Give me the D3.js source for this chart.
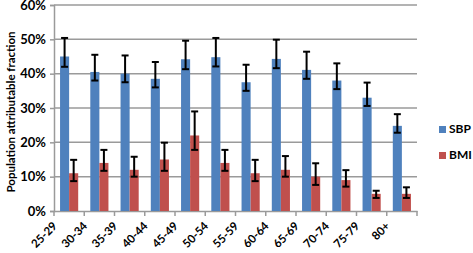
<!DOCTYPE html>
<html>
<head>
<meta charset="utf-8">
<script src="https://cdn.jsdelivr.net/npm/d3@7"></script>
<style>
  body { margin: 0; background: #fff; }
  text { font-family: Lato, "Open Sans", sans-serif; font-weight: bold; fill: #000; }
</style>
</head>
<body>
<div id="chart"></div>
<script>
// --------------------------------------
//  Data
// --------------------------------------

const ageGroups = ["25-29", "30-34", "35-39", "40-44", "45-49", "50-54", "55-59", "60-64", "65-69", "70-74", "75-79", "80+"];
const sbp     = [45, 40.5, 40, 38.5, 44.2, 44.8, 37.5, 44.3, 41.1, 38, 33, 24.8];
const sbpLow  = [42, 38, 37.5, 36, 41.3, 42.1, 35, 41.6, 38.5, 35.5, 30.6, 22.8];
const sbpHigh = [50.4, 45.5, 45.3, 43.4, 49.6, 50.4, 42.6, 49.9, 46.4, 43, 37.4, 28.2];
const bmi     = [11, 14, 12, 15, 22, 14, 11, 12, 10, 9, 5, 5];
const bmiLow  = [8.7, 11.7, 10, 11.7, 17.8, 11.7, 8.7, 10, 7.6, 7.1, 3.8, 3.8];
const bmiHigh = [14.9, 17.8, 15.8, 19.9, 29, 17.8, 14.9, 16, 13.9, 11.9, 5.9, 6.9];
const yTicks  = [0, 10, 20, 30, 40, 50, 60];
const seriesNames = ["SBP", "BMI"];
const colors = ["#4F81BD", "#C0504D"];

const width = 473, height = 253;
const margin = { top: 5, right: 56, bottom: 42, left: 54 };
const innerwidth = width - margin.left - margin.right;
const innerheight = height - margin.top - margin.bottom;

// --------------------------------------
//  Canvas
// --------------------------------------

const svg = d3.select("#chart")
  .append("svg")
    .attr("width", width)
    .attr("height", height);

const inner = svg.append("g")
    .attr("transform", `translate(${margin.left}, ${margin.top})`);

// --------------------------------------
//  Scales
// --------------------------------------

const x = d3.scaleBand()
    .domain(ageGroups)
    .range([0, innerwidth])
    .paddingInner(0.4)
    .paddingOuter(0.2);

const xSub = d3.scaleBand()
    .domain(seriesNames)
    .range([0, x.bandwidth()]);

const y = d3.scaleLinear()
    .domain([0, 60])
    .range([innerheight, 0]);

// --------------------------------------
//  Grid + axes
// --------------------------------------

inner.append("g")
  .selectAll("line")
  .data(yTicks.filter(d => d > 0))
  .join("line")
    .attr("x1", 0)
    .attr("x2", innerwidth)
    .attr("y1", d => y(d))
    .attr("y2", d => y(d))
    .attr("stroke", "#9a9a9a")
    .attr("stroke-width", 1.5);

inner.append("g")
    .call(d3.axisLeft(y).tickValues(yTicks).tickSize(4).tickPadding(4).tickFormat(d => d + "%"))
    .call(g => g.selectAll(".domain, line").attr("stroke", "#9a9a9a").attr("stroke-width", 1.5))
    .call(g => g.selectAll("text").attr("font-size", 13));

const step = x.step();
inner.append("g")
    .attr("transform", `translate(0, ${innerheight})`)
    .call(d3.axisBottom(x).tickSize(0).tickFormat(""))
    .call(g => g.select(".domain").attr("stroke", "#9a9a9a").attr("stroke-width", 1.5));

// category boundary ticks
inner.append("g")
  .selectAll("line")
  .data(d3.range(ageGroups.length + 1))
  .join("line")
    .attr("x1", i => i * step)
    .attr("x2", i => i * step)
    .attr("y1", innerheight)
    .attr("y2", innerheight + 5)
    .attr("stroke", "#9a9a9a")
    .attr("stroke-width", 1.5);

inner.append("g")
  .selectAll("text")
  .data(ageGroups)
  .join("text")
    .attr("transform", d => `translate(${x(d) + x.bandwidth() / 2 - 17}, ${innerheight + 10}) rotate(-45)`)
    .attr("text-anchor", "end")
    .attr("dy", "0.7em")
    .attr("font-size", 11.5)
    .text(d => d);

svg.append("text")
    .attr("transform", `translate(15, ${margin.top + innerheight / 2 + 4}) rotate(-90)`)
    .attr("text-anchor", "middle")
    .attr("font-size", 11.5)
    .text("Population attributable fraction");

// --------------------------------------
//  Bars
// --------------------------------------

const series = [
  { name: "SBP", values: sbp, low: sbpLow, high: sbpHigh },
  { name: "BMI", values: bmi, low: bmiLow, high: bmiHigh }
];

series.forEach((s, si) => {
  const g = inner.append("g");
  const bx = (d, i) => x(ageGroups[i]) + xSub(s.name);

  g.selectAll("rect")
    .data(s.values)
    .join("rect")
      .attr("x", bx)
      .attr("y", d => y(d))
      .attr("width", xSub.bandwidth())
      .attr("height", d => y(0) - y(d))
      .attr("fill", colors[si]);

  const eb = g.append("g")
    .selectAll("g")
    .data(s.values)
    .join("g")
      .attr("transform", (d, i) => `translate(${bx(d, i) + xSub.bandwidth() / 2}, 0)`);

  eb.append("line")
      .attr("y1", (d, i) => y(s.low[i]))
      .attr("y2", (d, i) => y(s.high[i]))
      .attr("stroke", "#000")
      .attr("stroke-width", 2);

  eb.append("line")
      .attr("x1", -3.5).attr("x2", 3.5)
      .attr("y1", (d, i) => y(s.high[i]))
      .attr("y2", (d, i) => y(s.high[i]))
      .attr("stroke", "#000")
      .attr("stroke-width", 2);

  eb.append("line")
      .attr("x1", -3.5).attr("x2", 3.5)
      .attr("y1", (d, i) => y(s.low[i]))
      .attr("y2", (d, i) => y(s.low[i]))
      .attr("stroke", "#000")
      .attr("stroke-width", 2);
});

// --------------------------------------
//  Legend
// --------------------------------------

const legend = svg.append("g")
  .selectAll("g")
  .data(seriesNames)
  .join("g")
    .attr("transform", (d, i) => `translate(439, ${126 + i * 26})`);

legend.append("rect")
    .attr("width", 7)
    .attr("height", 7)
    .attr("fill", (d, i) => colors[i]);

legend.append("text")
    .attr("x", 10)
    .attr("y", 7)
    .attr("font-size", 12)
    .text(d => d);
</script>
</body>
</html>
